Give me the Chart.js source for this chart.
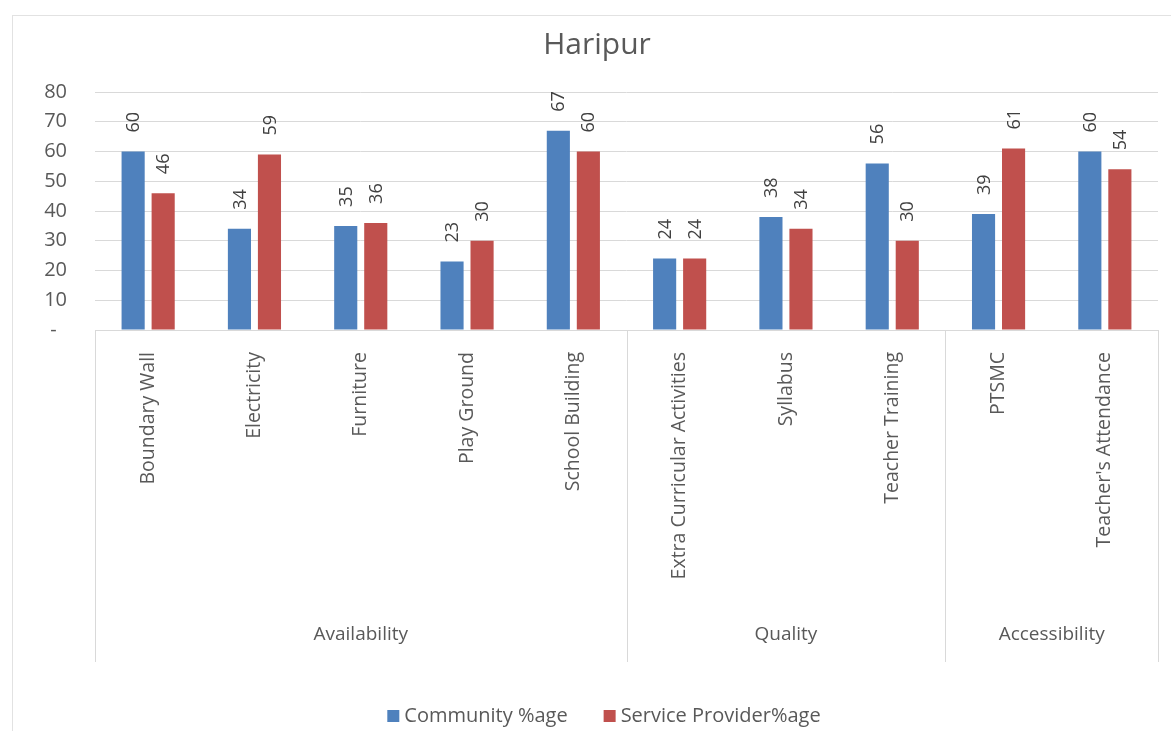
<!DOCTYPE html>
<html>
<head>
<meta charset="utf-8">
<script src="https://cdn.jsdelivr.net/npm/chart.js@4"></script>
<style>
  html, body { margin: 0; padding: 0; background: #fff; overflow: hidden; }
  #wrap { position: relative; width: 1171px; height: 731px; overflow: hidden; }
  #frame { position: absolute; left: 12px; top: 15px; width: 1200px; height: 730px; border: 1px solid #e2e2e2; pointer-events: none; }
</style>
</head>
<body>
<div id="wrap">
  <canvas id="grafik" width="1171" height="731"></canvas>
  <div id="frame"></div>
</div>
<script>
const categories = ["Boundary Wall", "Electricity", "Furniture", "Play Ground", "School Building",
  "Extra Curricular Activities", "Syllabus", "Teacher Training", "PTSMC", "Teacher's Attendance"];
const groupNames = ["Availability", "Quality", "Accessibility"];
const groupSizes = [5, 3, 2];
const community = [60, 34, 35, 23, 67, 24, 38, 56, 39, 60];
const provider = [46, 59, 36, 30, 60, 24, 34, 30, 61, 54];
const yTicks = [0, 10, 20, 30, 40, 50, 60, 70, 80];

const FONT = "'Open Sans', sans-serif";
const GREY = "#595959";
const LINE = "#d9d9d9";

// value labels, rotated, above each bar
const barLabels = {
  id: "barLabels",
  afterDatasetsDraw(chart) {
    const ctx = chart.ctx;
    ctx.save();
    ctx.fillStyle = "#404040";
    ctx.font = "18px " + FONT;
    ctx.textAlign = "left";
    ctx.textBaseline = "middle";
    chart.data.datasets.forEach((ds, i) => {
      chart.getDatasetMeta(i).data.forEach((bar, j) => {
        ctx.save();
        ctx.translate(bar.x + 1, bar.y - 19);
        ctx.rotate(-Math.PI / 2);
        ctx.fillText(String(ds.data[j]), 0, 0);
        ctx.restore();
      });
    });
    ctx.restore();
  },
};

// group boxes under the category axis
const groupAxis = {
  id: "groupAxis",
  afterDraw(chart) {
    const ctx = chart.ctx;
    const x = chart.scales.x;
    const top = chart.chartArea.bottom;
    const bottom = 662;
    const half = (x.getPixelForValue(1) - x.getPixelForValue(0)) / 2;
    ctx.save();
    ctx.strokeStyle = LINE;
    ctx.lineWidth = 1;
    ctx.fillStyle = GREY;
    ctx.font = "19px " + FONT;
    ctx.textAlign = "center";
    ctx.textBaseline = "middle";
    let start = 0;
    const edges = [x.getPixelForValue(0) - half];
    groupSizes.forEach((n, g) => {
      const left = x.getPixelForValue(start) - half;
      const right = x.getPixelForValue(start + n - 1) + half;
      edges.push(right);
      ctx.fillText(groupNames[g], (left + right) / 2, 635);
      start += n;
    });
    edges.forEach((e) => {
      const px = Math.round(e) + 0.5;
      ctx.beginPath();
      ctx.moveTo(px, top);
      ctx.lineTo(px, bottom);
      ctx.stroke();
    });
    ctx.restore();
  },
};

// legend row at the bottom, built from the datasets
const bottomLegend = {
  id: "bottomLegend",
  afterDraw(chart) {
    const ctx = chart.ctx;
    const box = 12, gapText = 5, gapItem = 36, cy = 716;
    ctx.save();
    ctx.font = "20px " + FONT;
    ctx.textBaseline = "middle";
    ctx.textAlign = "left";
    const items = chart.data.datasets.map((ds) => ({
      text: ds.label,
      color: ds.backgroundColor,
      w: box + gapText + ctx.measureText(ds.label).width,
    }));
    const total = items.reduce((s, it) => s + it.w, 0) + gapItem * (items.length - 1);
    let x = 604 - total / 2;
    items.forEach((it) => {
      ctx.fillStyle = it.color;
      ctx.fillRect(x, cy - box / 2, box, box);
      ctx.fillStyle = GREY;
      ctx.fillText(it.text, x + box + gapText, cy);
      x += it.w + gapItem;
    });
    ctx.restore();
  },
};

new Chart(document.getElementById("grafik"), {
  type: "bar",
  data: {
    labels: categories,
    datasets: [
      {
        label: "Community %age",
        data: community,
        backgroundColor: "#4f81bd",
        categoryPercentage: 0.565,
        barPercentage: 0.77,
      },
      {
        label: "Service Provider%age",
        data: provider,
        backgroundColor: "#c0504d",
        categoryPercentage: 0.565,
        barPercentage: 0.77,
      },
    ],
  },
  plugins: [barLabels, groupAxis, bottomLegend],
  options: {
    responsive: false,
    animation: false,
    layout: { padding: { left: 36, right: 13, top: 0, bottom: 0 } },
    scales: {
      x: {
        grid: { display: false, drawTicks: false },
        border: { display: true, color: LINE },
        ticks: {
          color: GREY,
          font: { family: FONT, size: 19.5 },
          minRotation: 90,
          maxRotation: 90,
          padding: 22,
          autoSkip: false,
        },
        afterFit(scale) {
          scale.height = 401;
        },
      },
      y: {
        min: yTicks[0],
        max: yTicks[yTicks.length - 1],
        grid: { color: LINE, drawTicks: false },
        border: { display: false },
        afterBuildTicks(scale) {
          scale.ticks = yTicks.map((v) => ({ value: v }));
        },
        ticks: {
          color: GREY,
          font: { family: FONT, size: 20 },
          padding: 28,
          callback: (v) => (v === 0 ? "-  " : v),
        },
        afterFit(scale) {
          scale.width = 59;
        },
      },
    },
    plugins: {
      title: {
        display: true,
        text: "Haripur",
        color: GREY,
        font: { family: FONT, size: 30, weight: "normal" },
        padding: { top: 27, bottom: 29 },
      },
      legend: { display: false },
      tooltip: { enabled: false },
    },
  },
});
</script>
</body>
</html>
